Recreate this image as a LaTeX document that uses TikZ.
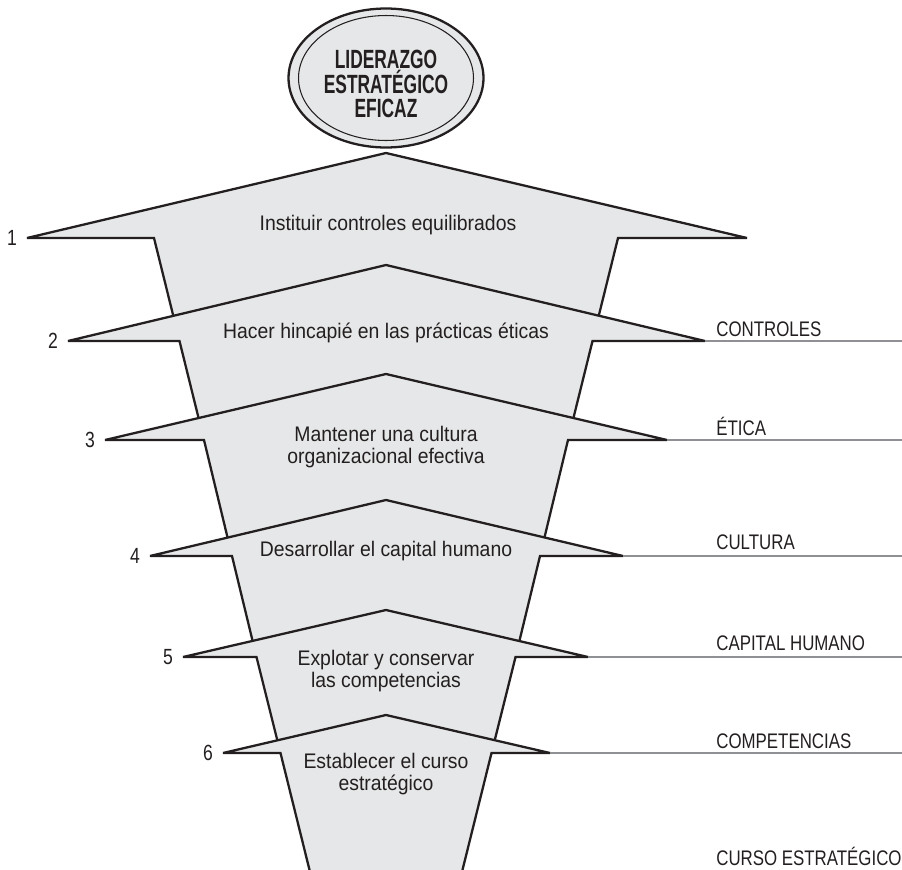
\documentclass[tikz,border=0pt]{standalone}
\usepackage{fontspec}
\setmainfont{Liberation Sans}[FakeStretch=0.92]
\newfontfamily\Versal{Liberation Sans}[FakeStretch=0.8]
\newfontfamily\Titular{Liberation Sans}[FakeStretch=0.66]
\usepackage{tikz}
\usetikzlibrary{positioning,shapes.geometric}
\definecolor{relleno}{HTML}{E6E7E8}
\definecolor{regla}{HTML}{8E9093}
\definecolor{tinta}{HTML}{231F20}
\tikzset{
  Tramo/.style={draw=tinta, fill=relleno, line width=1.3pt, miter limit=4},
  Ttxt/.style={align=center, font=\fontsize{12}{13}\selectfont, text=tinta,
               inner sep=0pt},
  Num/.style={font=\Versal\fontsize{12.5}{13}\selectfont, text=tinta, inner sep=0pt},
  Lab/.style={font=\Versal\fontsize{12}{13}\selectfont, text=tinta,
              anchor=base west, inner sep=0pt},
  Regla/.style={draw=regla, line width=1.6pt},
  Marco/.style={ellipse, draw=tinta, fill=relleno, line width=1.3pt,
                minimum width=3.9cm, minimum height=2.78cm, inner sep=0pt},
  Aro/.style={ellipse, draw=tinta, line width=0.6pt,
              minimum width=3.5cm, minimum height=2.5cm, inner sep=0pt},
  Titulo/.style={align=center, inner sep=0pt, text=tinta,
                 font=\Titular\bfseries\fontsize{15}{14}\selectfont}
}

\begin{document}
\begin{tikzpicture}[x=0.02cm, y=-0.02cm]
  \useasboundingbox (0,0) rectangle (902,869);
  \clip (0,0) rectangle (902,869);
  \coordinate (fin) at (902,0);

  % titulo
  \node[Marco] (marco) at (386,78) {};
  \node[Aro] (aro) at (386,78) {};
  \node[Titulo] (lider) at (386,84) {LIDERAZGO\\ESTRATÉGICO\\EFICAZ};

  % tramos, de arriba abajo
  \draw[Tramo] (386,153) -- (747,238) coordinate (r1) -- (618,238) -- (592.5,341)
    -- (179.5,341) -- (154,238) -- (27,238) coordinate (l1) -- cycle;
  \draw[Tramo] (386,265) -- (705,341) coordinate (r2) -- (592.5,341) -- (568,440)
    -- (204,440) -- (179.5,341) -- (68,341) coordinate (l2) -- cycle;
  \draw[Tramo] (386,374) -- (667,440) coordinate (r3) -- (568,440) -- (540,556)
    -- (232,556) -- (204,440) -- (105,440) coordinate (l3) -- cycle;
  \draw[Tramo] (386,500) -- (623,556) coordinate (r4) -- (540,556) -- (515.5,657)
    -- (256.5,657) -- (232,556) -- (150,556) coordinate (l4) -- cycle;
  \draw[Tramo] (386,610) -- (588,657) coordinate (r5) -- (515.5,657) -- (491.5,753)
    -- (280.5,753) -- (256.5,657) -- (183,657) coordinate (l5) -- cycle;
  \draw[Tramo] (386,715) -- (550,753) coordinate (r6) -- (491.5,753) -- (460,880)
    -- (312,880) -- (280.5,753) -- (223,753) coordinate (l6) -- cycle;

  \node[Ttxt] (txt1) at (388,225) {Instituir controles equilibrados};
  \node[Ttxt] (txt2) at (386,333) {Hacer hincapié en las prácticas éticas};
  \node[Ttxt] (txt3) at (386,447) {Mantener una cultura\\organizacional efectiva};
  \node[Ttxt] (txt4) at (386,551) {Desarrollar el capital humano};
  \node[Ttxt] (txt5) at (386,671) {Explotar y conservar\\las competencias};
  \node[Ttxt] (txt6) at (386,774) {Establecer el curso\\estratégico};

  \node[Num, left=5.5pt of l1] (n1) {1};
  \node[Num, left=5.5pt of l2] (n2) {2};
  \node[Num, left=5.5pt of l3] (n3) {3};
  \node[Num, left=5.5pt of l4] (n4) {4};
  \node[Num, left=5.5pt of l5] (n5) {5};
  \node[Num, left=5.5pt of l6] (n6) {6};

  % reglas y rotulos
  \draw[Regla] (r2) -- (r2 -| fin);
  \draw[Regla] (r3) -- (r3 -| fin);
  \draw[Regla] (r4) -- (r4 -| fin);
  \draw[Regla] (r5) -- (r5 -| fin);
  \draw[Regla] (r6) -- (r6 -| fin);
  \node[Lab] (lab1) at (716,336) {CONTROLES};
  \node[Lab] (lab2) at (716,435) {ÉTICA};
  \node[Lab] (lab3) at (716,549) {CULTURA};
  \node[Lab] (lab4) at (716,650) {CAPITAL HUMANO};
  \node[Lab] (lab5) at (716,748) {COMPETENCIAS};
  \node[Lab] (lab6) at (716,865) {CURSO ESTRATÉGICO};
\end{tikzpicture}
\end{document}
